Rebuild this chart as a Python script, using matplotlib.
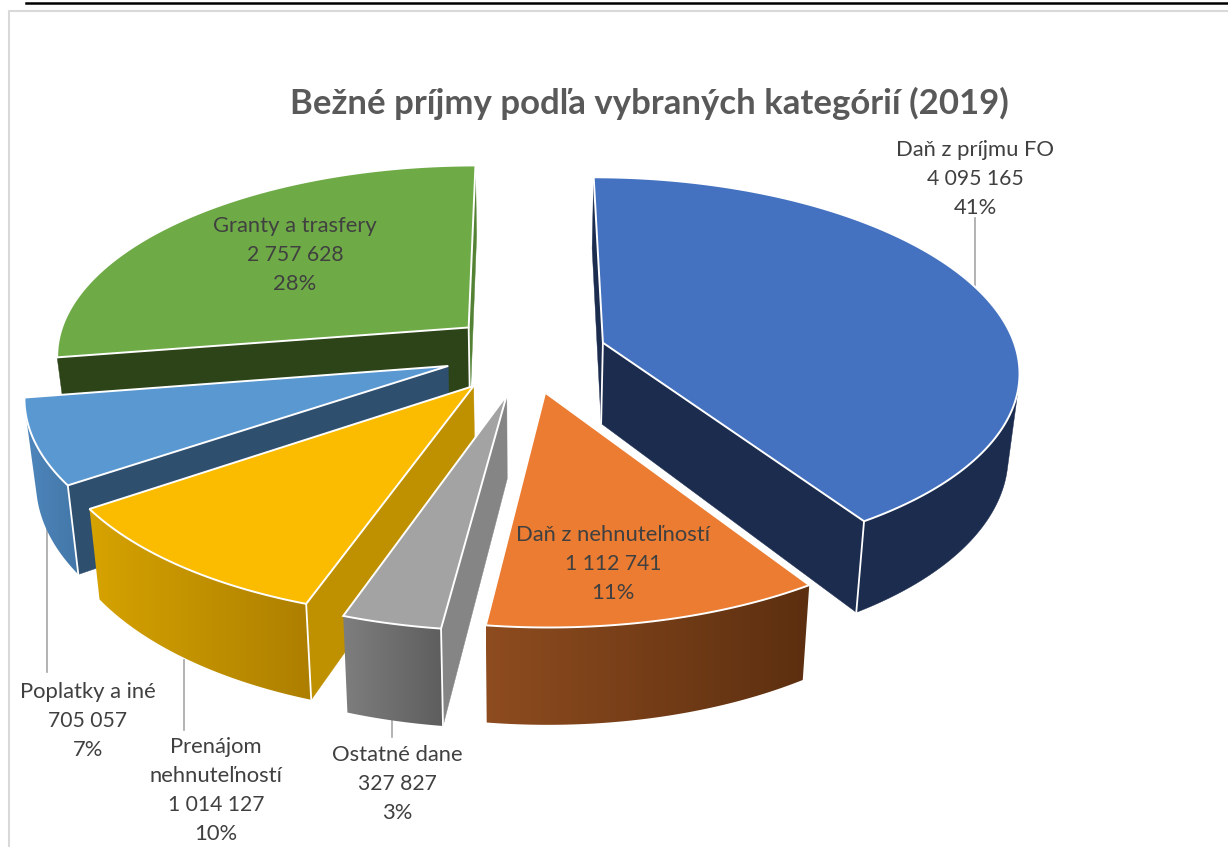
import numpy as np
import matplotlib
matplotlib.use('Agg')
import matplotlib.pyplot as plt
from matplotlib.colors import to_rgb
from matplotlib.patches import Polygon

title = 'Bežné príjmy podľa vybraných kategórií (2019)'
categories = ['Daň z príjmu FO', 'Daň z nehnuteľností', 'Ostatné dane',
              'Prenájom\nnehnuteľností', 'Poplatky a iné', 'Granty a trasfery']
values = [4095165, 1112741, 327827, 1014127, 705057, 2757628]

# look of each slice: top face, cut face at start and end angle, rim left and right
top_col = ['#4472C0', '#EB7C31', '#A3A3A3', '#FBBC00', '#5A98D2', '#6EAB46']
cut_a_col = ['#1B2C4F', '#5C2F10', '#858585', '#BF9000', '#2F4F6F', '#2D4419']
cut_b_col = ['#1B2C4F', '#5C2F10', '#858585', '#BF9000', '#2F4F6F', '#548235']
rim_left = ['#1B2C4F', '#8E4C1F', '#7E7E7E', '#D6A300', '#4E86BC', '#2D4419']
rim_right = ['#1B2C4F', '#5C2F10', '#5E5E5E', '#AD7F00', '#4377A8', '#2D4419']

# where each slice was pulled to, in pie radii (right, towards viewer)
pull = [(.187, .112), (.045, .368), (-.045, .38), (-.1235, .335), (-.186, .2335), (-.141, .03)]
draw_order = [5, 0, 4, 3, 2, 1]

# camera
cx, horizon, h0 = 526, -1039, 1361
radius, persp, depth, shrink = 405, .134, 79.5, .977

# label centre x, first line y
label_pos = [(975, 150), (613, 535), (397, 755), (216, 747), (88, 692), (295, 226)]
leaders = [(975, 218, 290), (392, 720, 737), (184, 660, 730), (47, 530, 672)]


def project(u, v):
    s = 1 / (1 - persp * v)
    return cx + radius * u * s, horizon + h0 * s, s


def top_and_bottom(u, v):
    x, y, s = project(u, v)
    return (x, y), (cx + (x - cx) * shrink, y + depth * s)


def area(q):
    q = np.array(q)
    x, y = q[:, 0], q[:, 1]
    return np.sum(x * np.roll(y, -1) - np.roll(x, -1) * y)


def draw_rim(ax, i, tops, bots):
    keep = [k for k in range(len(tops) - 1)
            if area([tops[k], tops[k + 1], bots[k + 1], bots[k]]) < 0]
    if not keep:
        return
    idx = list(range(keep[0], keep[-1] + 2))
    poly = [tops[k] for k in idx] + [bots[k] for k in reversed(idx)]
    if rim_left[i] == rim_right[i]:
        ax.fill(*zip(*poly), color=rim_left[i], lw=0.3, zorder=1)
        return
    pts = np.array(poly)
    c0, c1 = np.array(to_rgb(rim_left[i])), np.array(to_rgb(rim_right[i]))
    grad = np.linspace(c0, c1, 256)[np.newaxis, :, :]
    im = ax.imshow(grad, extent=(pts[:, 0].min(), pts[:, 0].max(), pts[:, 1].max(), pts[:, 1].min()),
                   aspect='auto', interpolation='bilinear', zorder=1)
    im.set_clip_path(Polygon(poly, closed=True, transform=ax.transData))


def draw_slice(ax, i, a1, a2):
    du, dv = pull[i]
    angles = np.radians(np.linspace(a1, a2, max(int(a2 - a1) * 2, 12)))
    pts = [top_and_bottom(du + np.sin(a), dv - np.cos(a)) for a in angles]
    tops = [p[0] for p in pts]
    bots = [p[1] for p in pts]
    apex_t, apex_b = top_and_bottom(du, dv)

    cut_a = [apex_t, tops[0], bots[0], apex_b]
    cut_b = [tops[-1], apex_t, apex_b, bots[-1]]
    a_vis = area(cut_a) < 0
    b_vis = area(cut_b) < 0
    if a_vis:
        ax.fill(*zip(*cut_a), color=cut_a_col[i], lw=0.3, zorder=1)
    if b_vis:
        ax.fill(*zip(*cut_b), color=cut_b_col[i], lw=0.3, zorder=1)
    draw_rim(ax, i, tops, bots)

    # white edges
    def edge(p, q):
        ax.plot([p[0], q[0]], [p[1], q[1]], color='white', lw=1.3, solid_capstyle='round', zorder=1)

    first_vis = area([tops[0], tops[1], bots[1], bots[0]]) < 0
    last_vis = area([tops[-2], tops[-1], bots[-1], bots[-2]]) < 0
    if a_vis and first_vis:
        edge(tops[0], bots[0])
    if b_vis and last_vis:
        edge(tops[-1], bots[-1])
    if a_vis and b_vis:
        edge(apex_t, apex_b)

    outline = [apex_t] + tops
    ax.fill(*zip(*outline), facecolor=top_col[i], edgecolor='white', lw=1.4, zorder=1)


fig = plt.figure(figsize=(12.28, 8.47), dpi=100)
ax = fig.add_axes([0, 0, 1, 1])
ax.axis('off')

# page rule and chart frame
ax.plot([26, 1228], [3, 3], color='black', lw=1.8)
ax.plot([9, 9, 1228], [847, 11, 11], color='#D9D9D9', lw=1.5)

total = sum(values)
edges = np.concatenate([[0], np.cumsum(values) / total * 360])
for i in draw_order:
    draw_slice(ax, i, edges[i], edges[i + 1])

for x, y0, y1 in leaders:
    ax.plot([x, x], [y0, y1], color='#A6A6A6', lw=1.2, zorder=0)

ax.text(649, 103, title, ha='center', va='center', fontsize=25, fontweight='bold',
        family='Lato', color='#595959')

for i, (x, y) in enumerate(label_pos):
    lines = categories[i].split('\n')
    sizes = [15.8] * len(lines) + [15.2, 15.8]
    lines.append(f'{values[i]:,}'.replace(',', ' '))
    lines.append(f'{values[i] / total * 100:.0f}%')
    for k, line in enumerate(lines):
        ax.text(x, y + k * 29, line, ha='center', va='center', fontsize=sizes[k],
                family='Lato', color='#404040')

ax.set_xlim(0, 1228)
ax.set_ylim(847, 0)
fig.savefig('out.png', dpi=100)
